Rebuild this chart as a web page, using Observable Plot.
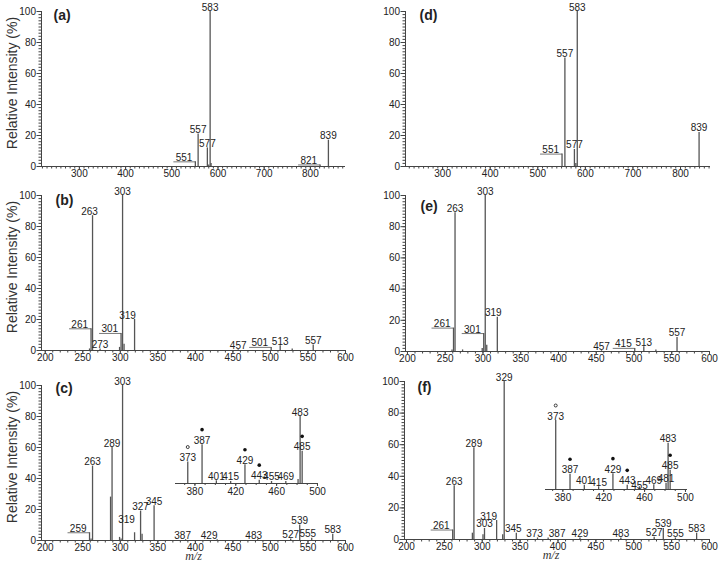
<!DOCTYPE html>
<html><head><meta charset="utf-8">
<script src="https://cdn.jsdelivr.net/npm/d3@7"></script>
<script src="https://cdn.jsdelivr.net/npm/@observablehq/plot@0.6"></script>
<style>
body{margin:0;background:#fff;}
#chart{position:relative;width:724px;height:562px;overflow:hidden;background:#fff;font-family:"Liberation Sans",Arial,sans-serif;}
#chart svg{position:absolute;overflow:visible;background:transparent;}
</style></head><body><div id="chart"></div>
<script>
// ---------- data ----------
// (a)
const A_MZ  = [551, 557, 577, 580, 583, 585, 821, 839];
const A_INT = [3, 21, 12, 1, 100, 2, 1, 17];
const A_LAB = ["551", "557", "577", "", "583", "", "821", "839"];
const A_LEADER = ["551", "821"];
// (d)
const D_MZ  = [551, 557, 577, 580, 583, 839];
const D_INT = [8, 70, 11, 2, 100, 22];
const D_LAB = ["551", "557", "577", "", "583", "839"];
const D_LEADER = ["551"];
// (b)
const B_MZ  = [259, 261, 263, 273, 299, 301, 303, 305, 319, 457, 501, 513, 529, 557];
const B_INT = [1, 14, 87, 1, 2, 11, 100, 4, 20, 0.5, 2, 3, 1, 3.5];
const B_LAB = ["", "261", "263", "273", "", "301", "303", "", "319", "457", "501", "513", "", "557"];
const B_LEADER = ["261", "301", "501"];
// (e)
const E_MZ  = [259, 261, 263, 273, 299, 301, 303, 305, 319, 457, 501, 513, 529, 557];
const E_INT = [1, 15, 89, 1, 2, 11.5, 100, 4, 22, 0.5, 2, 3, 1, 9];
const E_LAB = ["", "261", "263", "", "", "301", "303", "", "319", "457", "415", "513", "", "557"];
const E_LEADER = ["261", "301", "415"];
// (c)
const C_MZ  = [259, 261, 263, 287, 289, 299, 301, 303, 319, 327, 329, 345, 387, 429, 483, 527, 539, 555, 583];
const C_INT = [5, 1, 48, 28, 60, 2, 1, 100, 5, 19, 4, 22.5, 0.5, 0.5, 0.5, 1, 10, 1.5, 4];
const C_LAB = ["259", "", "263", "", "289", "", "", "303", "319", "327", "", "345", "387", "429", "483", "527", "539", "555", "583"];
const C_LEADER = ["259"];
// (f)
const F_MZ  = [261, 263, 287, 289, 301, 303, 319, 327, 329, 345, 373, 387, 429, 483, 527, 539, 555, 583];
const F_INT = [6, 34, 4, 58, 3, 7, 12, 3, 100, 4, 1, 1, 1, 1, 1.5, 7, 1, 4];
const F_LAB = ["261", "263", "", "289", "", "303", "319", "", "329", "345", "373", "387", "429", "483", "527", "539", "555", "583"];
const F_LEADER = ["261"];
// insets (relative intensity within inset)
const CI_MZ  = [373, 387, 401, 415, 429, 443, 455, 469, 481, 483, 485];
const CI_INT = [32, 58, 4, 3, 28, 5, 3, 3, 6, 100, 48];
const CI_LAB = ["373", "387", "401", "415", "429", "443", "455", "469", "", "483", "485"];
const CI_FILLED = [387, 429, 443, 485];
const CI_OPEN = [373];
const FI_MZ  = [373, 387, 401, 415, 429, 443, 455, 469, 481, 483, 485];
const FI_INT = [100, 22, 6, 4, 23, 6, 4, 7, 9, 67, 28];
const FI_LAB = ["373", "387", "401", "415", "429", "443", "455", "469", "481", "483", "485"];
const FI_FILLED = [387, 429, 443, 485];
const FI_OPEN = [373];

const TICKS_WIDE = [300, 400, 500, 600, 700, 800];
const TICKS_NARROW = [200, 250, 300, 350, 400, 450, 500, 550, 600];
const TICKS_INSET = [380, 420, 460, 500];
const Y_TICKS = [0, 20, 40, 60, 80, 100];
const Y_LABEL = "Relative Intensity (%)";
const X_LABEL = "m/z";

// label nudges in pixels (layout only): {mz: [dx, dy]}
const NUDGE_B = {263: [-3, 0], 319: [-7, 0]};
const NUDGE_E = {319: [-4, 0]};
const NUDGE_C = {319: [-8, -9], 387: [-3, 0], 429: [-8, 0], 483: [-4, 0], 555: [-4, 0]};
const NUDGE_F = {319: [-8, 0], 345: [-3, 0], 373: [-3, 0], 387: [9, 0]};
const NUDGE_FI = {455: [0, 3]};

// ---------- drawing ----------
const chart = document.getElementById("chart");
const INK = "#222", LINE = "#444", PEAK = "#555";

function place(svg, left, top) {
  svg.style.left = left + "px";
  svg.style.top = top + "px";
  chart.appendChild(svg);
}

function panel(o) {
  const nudge = o.nudge || {};
  const data = o.mz.map((m, i) => ({mz: m, v: o.inten[i], t: o.lab[i],
    lead: o.lab[i] !== "" && o.leader.includes(o.lab[i]),
    ndx: (nudge[m] || [0, 0])[0], ndy: (nudge[m] || [0, 0])[1]}));
  const k = (o.width - o.ml - o.mr) / (o.xDomain[1] - o.xDomain[0]);
  const minor = d3.range(Math.ceil(o.xDomain[0] / 10) * 10, o.xDomain[1] + 0.01, 10);
  const centered = data.filter(d => d.t && !d.lead);
  const marks = [
    Plot.axisX({ticks: minor, tickSize: 2.5, tickFormat: () => "", label: null, stroke: LINE}),
    Plot.axisX({ticks: o.xTicks, tickSize: 3, tickPadding: 0, fontSize: 10, label: null, stroke: LINE, fill: INK}),
    Plot.axisY({ticks: d3.range(0, 101, 2), tickSize: 2.5, tickFormat: () => "", label: null, stroke: LINE}),
    Plot.axisY({ticks: Y_TICKS, tickSize: 4.5, tickPadding: 1, fontSize: 10, label: null, stroke: LINE, fill: INK}),
    Plot.ruleY([0], {stroke: LINE}),
    Plot.ruleX([o.xDomain[0]], {y1: 0, y2: 100, stroke: LINE}),
    Plot.ruleX(data, {x: "mz", y1: 0, y2: "v", stroke: PEAK, strokeWidth: 1.3}),
    Plot.text(centered, {x: d => d.mz + d.ndx / k, y: d => d.v - d.ndy / o.pxPerPct, text: "t", lineAnchor: "bottom", dy: -1, fontSize: 10, fill: INK}),
    Plot.text(data.filter(d => d.lead), {x: "mz", y: "v", text: "t", textAnchor: "end", lineAnchor: "bottom", dx: -3, dy: -1, fontSize: 10, fill: INK}),
    Plot.link(data.filter(d => d.lead), {x1: d => d.mz - 22 / k, x2: "mz", y1: "v", y2: "v", stroke: PEAK, strokeWidth: 0.8}),
    Plot.text([o.letter], {frameAnchor: "top-left", dx: o.ldx, dy: o.ldy, fontSize: 14, fontWeight: "bold", fill: INK})
  ];
  if (o.ylabel) marks.push(Plot.text([Y_LABEL], {frameAnchor: "left", textAnchor: "middle", rotate: -90, dx: -29, dy: -6, fontSize: 14, fill: "#333"}));
  if (o.xlabel) marks.push(Plot.text([X_LABEL], {frameAnchor: "bottom", lineAnchor: "top", dx: o.xldx || 0, dy: 11, fontSize: 12, fontStyle: "italic", fontFamily: "Liberation Serif, Times New Roman, serif", fill: "#333"}));
  const svg = Plot.plot({
    width: o.width, height: o.height,
    marginTop: o.mt, marginBottom: o.mb, marginLeft: o.ml, marginRight: o.mr,
    style: {fontFamily: "Liberation Sans, Arial, sans-serif", background: "transparent"},
    x: {domain: o.xDomain, label: null},
    y: {domain: [0, 100], label: null},
    marks
  });
  place(svg, o.left, o.top);
}

function inset(o) {
  const nudge = o.nudge || {};
  const data = o.mz.map((m, i) => ({mz: m, v: o.inten[i], t: o.lab[i], ndy: (nudge[m] || [0, 0])[1]}));
  const minor = d3.range(Math.ceil(o.xDomain[0] / 10) * 10, o.xDomain[1] + 0.01, 10);
  const pxPerUnit = (o.height - o.mt - o.mb) / 100;
  const svg = Plot.plot({
    width: o.width, height: o.height,
    marginTop: o.mt, marginBottom: o.mb, marginLeft: o.ml, marginRight: o.mr,
    style: {fontFamily: "Liberation Sans, Arial, sans-serif", background: "transparent"},
    x: {domain: o.xDomain, label: null},
    y: {domain: [0, 100], axis: null},
    marks: [
      Plot.axisX({ticks: minor, tickSize: 2, tickFormat: () => "", label: null, stroke: LINE}),
      Plot.axisX({ticks: TICKS_INSET, tickSize: 3, tickPadding: 1, fontSize: 10, label: null, stroke: LINE, fill: INK}),
      Plot.ruleY([0], {stroke: LINE}),
      Plot.ruleX(data, {x: "mz", y1: 0, y2: "v", stroke: PEAK, strokeWidth: 1.3}),
      Plot.text(data.filter(d => d.t), {x: "mz", y: d => d.v - d.ndy / pxPerUnit, text: "t", lineAnchor: "bottom", dy: -1, fontSize: 10, fill: INK}),
      Plot.dot(data.filter(d => o.filled.includes(d.mz)), {x: "mz", y: "v", r: 1.8, fill: "#111", stroke: "none", dy: -15}),
      Plot.dot(data.filter(d => o.open.includes(d.mz)), {x: "mz", y: "v", r: 1.5, fill: "none", stroke: "#111", strokeWidth: 0.8, dy: -15})
    ]
  });
  place(svg, o.left, o.top);
}

panel({letter: "(a)", mz: A_MZ, inten: A_INT, lab: A_LAB, leader: A_LEADER, xDomain: [218, 876], xTicks: TICKS_WIDE,
  left: 0, top: 0, width: 362, height: 186, mt: 11, mb: 20, ml: 41, mr: 17, ldx: 12, ldy: -1, ylabel: true, pxPerPct: 1.55});
panel({letter: "(d)", mz: D_MZ, inten: D_INT, lab: D_LAB, leader: D_LEADER, xDomain: [222, 863], xTicks: TICKS_WIDE,
  left: 362, top: 0, width: 362, height: 186, mt: 11, mb: 20, ml: 43, mr: 14, ldx: 14, ldy: -1, pxPerPct: 1.55});
panel({letter: "(b)", mz: B_MZ, inten: B_INT, lab: B_LAB, leader: B_LEADER, nudge: NUDGE_B, xDomain: [195, 600], xTicks: TICKS_NARROW,
  left: 0, top: 185, width: 362, height: 186, mt: 10, mb: 21, ml: 41, mr: 17, ldx: 14, ldy: 0, ylabel: true, pxPerPct: 1.55});
panel({letter: "(e)", mz: E_MZ, inten: E_INT, lab: E_LAB, leader: E_LEADER, nudge: NUDGE_E, xDomain: [197.4, 600], xTicks: TICKS_NARROW,
  left: 362, top: 185, width: 362, height: 186, mt: 10, mb: 20, ml: 43, mr: 15, ldx: 15, ldy: 6, pxPerPct: 1.56});
panel({letter: "(c)", mz: C_MZ, inten: C_INT, lab: C_LAB, leader: C_LEADER, nudge: NUDGE_C, xDomain: [195, 600], xTicks: TICKS_NARROW,
  left: 0, top: 372, width: 362, height: 190, mt: 13, mb: 22, ml: 41, mr: 17, ldx: 14, ldy: -2, ylabel: true, xlabel: true, pxPerPct: 1.55});
panel({letter: "(f)", mz: F_MZ, inten: F_INT, lab: F_LAB, leader: F_LEADER, nudge: NUDGE_F, xDomain: [197.4, 600], xTicks: TICKS_NARROW,
  left: 362, top: 372, width: 362, height: 190, mt: 9, mb: 23, ml: 42, mr: 15, ldx: 13, ldy: 1, xlabel: true, xldx: -6, pxPerPct: 1.58});

inset({mz: CI_MZ, inten: CI_INT, lab: CI_LAB, filled: CI_FILLED, open: CI_OPEN, xDomain: [361, 501],
  left: 165, top: 395, width: 160, height: 104, mt: 21, mb: 16, ml: 10, mr: 7});
inset({mz: FI_MZ, inten: FI_INT, lab: FI_LAB, filled: FI_FILLED, open: FI_OPEN, nudge: NUDGE_FI, xDomain: [363, 502],
  left: 535, top: 395, width: 161, height: 108, mt: 25, mb: 14, ml: 10, mr: 9});
</script></body></html>
